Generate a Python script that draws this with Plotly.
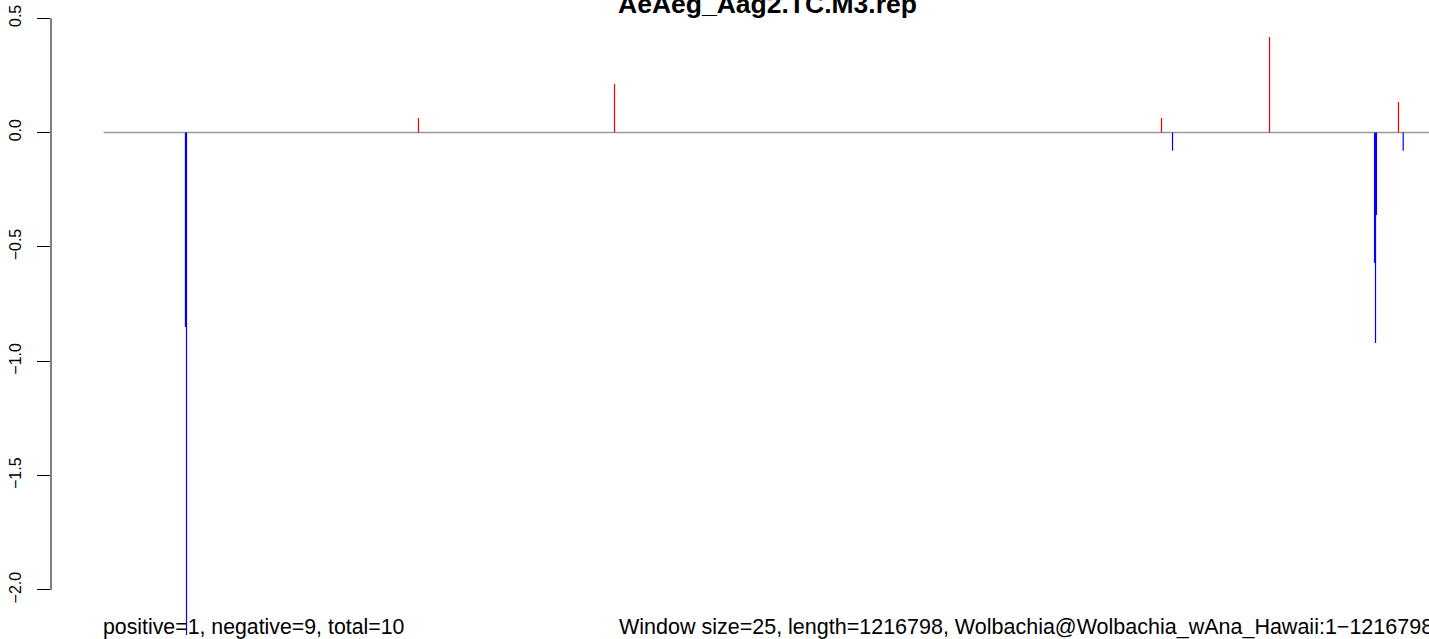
import plotly.graph_objects as go

# ---- data ----
title_text = "AeAeg_Aag2.TC.M3.rep"
genome_length = 1216798
window_size = 25
positions = [76700, 77700, 294800, 478300, 990300, 1000600, 1091400,
             1189700, 1190600, 1191500, 1212100, 1216500]
values = [-0.85, -2.197, 0.064, 0.212, 0.064, -0.079, 0.418,
          -0.570, -0.920, -0.360, 0.134, -0.079]
tick_vals = [-2.0, -1.5, -1.0, -0.5, 0.0, 0.5]
tick_text = ["\u22122.0", "\u22121.5", "\u22121.0", "\u22120.5", "0.0", "0.5"]
left_note = "positive=1, negative=9, total=10"
right_note = ("Window size=25, length=1216798, "
              "Wolbachia@Wolbachia_wAna_Hawaii:1\u22121216798")

W, H = 1429, 639
FONT = "Liberation Sans, Arial, sans-serif"

fig = go.Figure()

# zero baseline
fig.add_trace(go.Scatter(
    x=[1, genome_length * 1.05], y=[0, 0], mode="lines",
    line=dict(color="#9a9a9a", width=1.5), hoverinfo="skip", showlegend=False))

# vertical bars, one line segment per value, coloured by sign
for color, keep in (("#ff0000", lambda v: v > 0), ("#0000ff", lambda v: v < 0)):
    xs, ys = [], []
    for p, v in zip(positions, values):
        if keep(v):
            xs += [p, p, None]
            ys += [0, v, None]
    fig.add_trace(go.Scatter(x=xs, y=ys, mode="lines",
                             line=dict(color=color, width=1.2),
                             hoverinfo="skip", showlegend=False))

plot_l = 51
px_per_bp = (genome_length - 1) / 1300.0
x_min = 1 - 52.5 * px_per_bp
x_max = x_min + (W - plot_l) * px_per_bp

fig.update_layout(
    width=W, height=H,
    margin=dict(l=plot_l, r=0, t=0, b=0),
    paper_bgcolor="white", plot_bgcolor="white",
    font=dict(family=FONT, color="black"),
    xaxis=dict(range=[x_min, x_max], visible=False, fixedrange=True),
    yaxis=dict(range=[-2.2143, 0.5798], showgrid=False, zeroline=False,
               showline=False, tickmode="array", tickvals=tick_vals,
               ticktext=tick_text, ticks="outside", ticklen=13,
               tickwidth=1, tickcolor="black", tickangle=-90,
               ticklabelstandoff=10, fixedrange=True,
               tickfont=dict(size=16, family=FONT, color="black")),
    shapes=[dict(type="line", xref="paper", yref="y", x0=0, x1=0,
                 y0=tick_vals[0], y1=tick_vals[-1],
                 line=dict(color="black", width=1))],
    annotations=[
        dict(text="<b>" + title_text + "</b>", xref="paper", yref="paper",
             x=(767 - plot_l) / (W - plot_l), y=1 - 4 / H,
             xanchor="center", yanchor="middle", showarrow=False,
             font=dict(size=26.5, family=FONT, color="black")),
        dict(text=left_note, xref="paper", yref="paper",
             x=(101 - plot_l) / (W - plot_l), y=(H - 627) / H,
             xanchor="left", yanchor="middle", showarrow=False,
             font=dict(size=21.3, family=FONT, color="black")),
        dict(text=right_note, xref="paper", yref="paper",
             x=(617 - plot_l) / (W - plot_l), y=(H - 627) / H,
             xanchor="left", yanchor="middle", showarrow=False,
             font=dict(size=21.5, family=FONT, color="black")),
    ],
)

fig.write_html("out.html", config={"displayModeBar": False},
               post_script="document.body.style.margin='0px';")
